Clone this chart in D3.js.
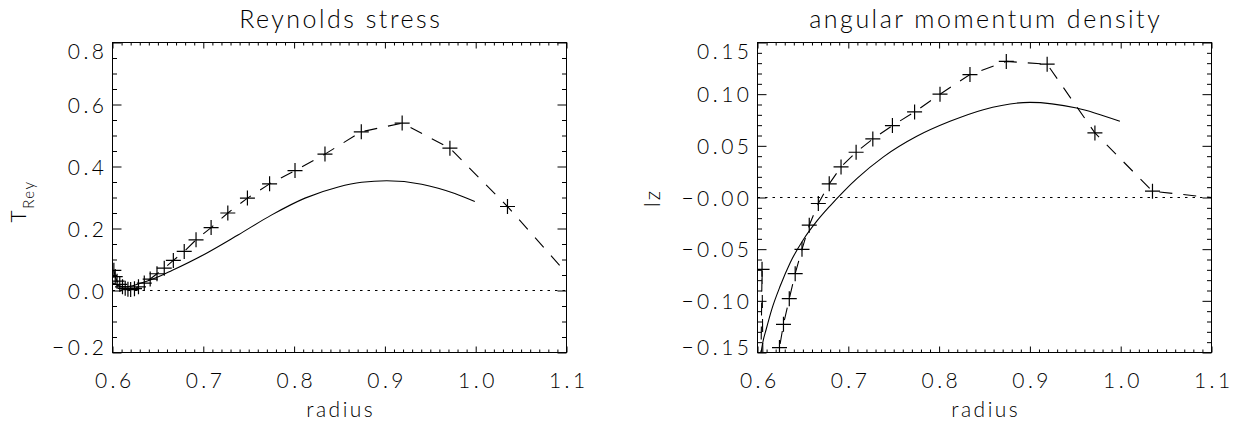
<!DOCTYPE html>
<html><head><meta charset="utf-8">
<script src="https://cdn.jsdelivr.net/npm/d3@7"></script>
<style>
body{margin:0;background:#fff;}
svg{display:block;background:#fff;}
text{font-family:Lato,"DejaVu Sans",sans-serif;font-weight:300;fill:#000;}
</style></head><body>
<svg id="c" width="1236" height="422"></svg>
<script>
// ---------- data ----------
const radiusTickValues = [0.6, 0.7, 0.8, 0.9, 1.0, 1.1];
const radiusTickLabels = ["0.6", "0.7", "0.8", "0.9", "1.0", "1.1"];
const treyTickValues = [-0.2, 0.0, 0.2, 0.4, 0.6, 0.8];
const treyTickLabels = ["\u22120.2", "0.0", "0.2", "0.4", "0.6", "0.8"];
const lzTickValues = [-0.15, -0.10, -0.05, 0.0, 0.05, 0.10, 0.15];
const lzTickLabels = ["\u22120.15", "\u22120.10", "\u22120.05", "\u22120.00", "0.05", "0.10", "0.15"];

// simulation points (dashed line with + markers)
const radiusSim = [0.6015, 0.603, 0.605, 0.608, 0.611, 0.614, 0.617, 0.620, 0.6242, 0.6286,
  0.635, 0.6415, 0.649, 0.657, 0.667, 0.679, 0.692, 0.7086, 0.727, 0.7486,
  0.773, 0.801, 0.834, 0.874, 0.919, 0.9716, 1.035, 1.12];
const treySim = [0.065, 0.045, 0.030, 0.020, 0.012, 0.007, 0.004, 0.003, 0.006, 0.012,
  0.024, 0.037, 0.054, 0.072, 0.097, 0.126, 0.1635, 0.203, 0.250, 0.298,
  0.344, 0.387, 0.440, 0.512, 0.540, 0.459, 0.271, -0.010];
const lzSim = [-0.30, -0.22, -0.0695, -0.35, -0.32, -0.28, -0.24, -0.20, -0.1452, -0.1227,
  -0.0979, -0.0737, -0.0502, -0.0268, -0.0058, 0.0132, 0.0296, 0.0438, 0.0567, 0.0696,
  0.0828, 0.100, 0.119, 0.1317, 0.129, 0.0625, 0.0061, -0.002];

// model curves (solid lines)
const radiusModelTrey = [0.600, 0.607, 0.614, 0.6286, 0.647, 0.6654, 0.702, 0.7387, 0.7754, 0.812,
  0.8487, 0.8744, 0.902, 0.9405, 0.9587, 0.977, 0.999];
const treyModel = [0.025, 0.015, 0.012, 0.021, 0.040, 0.0645, 0.118, 0.180, 0.244, 0.298,
  0.334, 0.349, 0.354, 0.343, 0.330, 0.313, 0.287];
const radiusModelLz = [0.6015, 0.604, 0.6059, 0.6096, 0.6158, 0.625, 0.636, 0.6506, 0.6653, 0.680,
  0.695, 0.710, 0.7387, 0.7754, 0.812, 0.8487, 0.9001, 0.9514, 0.9991];
const lzModel = [-0.17, -0.150, -0.140, -0.1275, -0.108, -0.0857, -0.0631, -0.0406, -0.0229, -0.0080,
  0.0060, 0.0187, 0.0393, 0.0592, 0.0737, 0.085, 0.0921, 0.0866, 0.0737];

// ---------- drawing ----------
const svg = d3.select("#c");
const Y0 = 42.5, Y1 = 352.5;
const LS = 3.5;          // tick label letter spacing
const panels = [
  { id: "p1", x0: 112.5, x1: 566.5, yDomain: [-0.2, 0.8], yTicks: treyTickValues, yLabels: treyTickLabels,
    yMinorStep: 0.05, title: "Reynolds stress",
    simX: radiusSim, simY: treySim, modX: radiusModelTrey, modY: treyModel, ylab: "trey" },
  { id: "p2", x0: 757.5, x1: 1211.5, yDomain: [-0.15, 0.15], yTicks: lzTickValues, yLabels: lzTickLabels,
    yMinorStep: 0.01, title: "angular momentum density",
    simX: radiusSim, simY: lzSim, modX: radiusModelLz, modY: lzModel, ylab: "lz" }
];

function minors(lo, hi, step, majors) {
  const a = Math.round(lo / step), b = Math.round(hi / step);
  return d3.range(a, b + 1).map(i => +(i * step).toFixed(5))
    .filter(v => !majors.some(m => Math.abs(m - v) < 1e-6));
}

panels.forEach(p => {
  const x = d3.scaleLinear().domain([0.6, 1.1]).range([p.x0, p.x1]);
  const y = d3.scaleLinear().domain(p.yDomain).range([Y1, Y0]);
  const g = svg.append("g").attr("color", "#000");

  svg.append("clipPath").attr("id", "clip-" + p.id)
    .append("rect").attr("x", p.x0).attr("y", Y0).attr("width", p.x1 - p.x0).attr("height", Y1 - Y0);

  const xMinor = minors(0.6, 1.1, 0.01, radiusTickValues);
  const yMinor = minors(p.yDomain[0], p.yDomain[1], p.yMinorStep, p.yTicks);

  const bx = g.append("g").attr("transform", `translate(0,${Y1})`)
    .call(d3.axisBottom(x).tickValues(radiusTickValues).tickSize(-6)
      .tickFormat((d, i) => radiusTickLabels[i]));
  g.append("g").attr("transform", `translate(0,${Y1})`)
    .call(d3.axisBottom(x).tickValues(xMinor).tickSize(-3).tickFormat(""));
  g.append("g").attr("transform", `translate(0,${Y0})`)
    .call(d3.axisTop(x).tickValues(radiusTickValues).tickSize(-6).tickFormat(""));
  g.append("g").attr("transform", `translate(0,${Y0})`)
    .call(d3.axisTop(x).tickValues(xMinor).tickSize(-3).tickFormat(""));
  const ly = g.append("g").attr("transform", `translate(${p.x0},0)`)
    .call(d3.axisLeft(y).tickValues(p.yTicks).tickSize(-9)
      .tickFormat((d, i) => p.yLabels[i]));
  g.append("g").attr("transform", `translate(${p.x0},0)`)
    .call(d3.axisLeft(y).tickValues(yMinor).tickSize(-4.5).tickFormat(""));
  g.append("g").attr("transform", `translate(${p.x1},0)`)
    .call(d3.axisRight(y).tickValues(p.yTicks).tickSize(-9).tickFormat(""));
  g.append("g").attr("transform", `translate(${p.x1},0)`)
    .call(d3.axisRight(y).tickValues(yMinor).tickSize(-4.5).tickFormat(""));

  g.selectAll(".domain").remove();
  g.selectAll(".tick line").attr("stroke", "#000").attr("stroke-width", 1);

  bx.selectAll(".tick text")
    .attr("y", 35.8).attr("dy", 0).attr("dx", LS / 2)
    .style("font-size", "21px").style("letter-spacing", LS + "px");
  const nY = p.yTicks.length;
  ly.selectAll(".tick text")
    .attr("x", -8.5 + LS)
    .attr("dy", (d, i) => i === nY - 1 ? "0.74em" : (i === 0 ? "0.11em" : "0.36em"))
    .style("font-size", "21px").style("letter-spacing", LS + "px");

  g.append("rect").attr("x", p.x0).attr("y", Y0).attr("width", p.x1 - p.x0).attr("height", Y1 - Y0)
    .attr("fill", "none").attr("stroke", "#000").attr("stroke-width", 1);

  const plot = g.append("g").attr("clip-path", `url(#clip-${p.id})`);

  plot.append("path")
    .attr("d", d3.line()([[x(0.6), y(0)], [x(1.1), y(0)]]))
    .attr("stroke", "#000").attr("stroke-width", 1).attr("stroke-dasharray", "2.5,5").attr("fill", "none");

  const model = p.modX.map((r, i) => [r, p.modY[i]]);
  plot.append("path")
    .attr("d", d3.line().x(d => x(d[0])).y(d => y(d[1])).curve(d3.curveMonotoneX)(model))
    .attr("stroke", "#000").attr("stroke-width", 1.1).attr("fill", "none");

  const sim = p.simX.map((r, i) => [r, p.simY[i]]);
  plot.append("path")
    .attr("d", d3.line().x(d => x(d[0])).y(d => y(d[1]))(sim))
    .attr("stroke", "#000").attr("stroke-width", 1.1).attr("stroke-dasharray", "13,11").attr("fill", "none");
  const M = 7.5;
  plot.append("g").selectAll("path").data(sim).join("path")
    .attr("d", d => {
      const cx = x(d[0]), cy = y(d[1]);
      return `M${cx - M},${cy}H${cx + M}M${cx},${cy - M}V${cy + M}`;
    })
    .attr("stroke", "#000").attr("stroke-width", 1.2).attr("fill", "none");

  const cx = (p.x0 + p.x1) / 2;
  g.append("text").attr("x", cx).attr("dx", 1.25).attr("y", 27.5).attr("text-anchor", "middle")
    .style("font-size", "25px").style("letter-spacing", "2.5px").text(p.title);
  g.append("text").attr("x", cx).attr("dx", 1.25).attr("y", 416.5).attr("text-anchor", "middle")
    .style("font-size", "21px").style("letter-spacing", "2.5px").text("radius");

  if (p.ylab === "trey") {
    const t = g.append("text").attr("transform", "translate(25.5,201.5) rotate(-90)")
      .attr("text-anchor", "middle").style("font-size", "21px").style("letter-spacing", "1.5px");
    t.append("tspan").text("T");
    t.append("tspan").attr("dy", 8).style("font-size", "15px").text("Rey");
  } else {
    g.append("text").attr("transform", `translate(${p.x0 - 98},198) rotate(-90)`)
      .attr("text-anchor", "middle").style("font-size", "21px").style("letter-spacing", "2px").text("lz");
  }
});
</script>
</body></html>
